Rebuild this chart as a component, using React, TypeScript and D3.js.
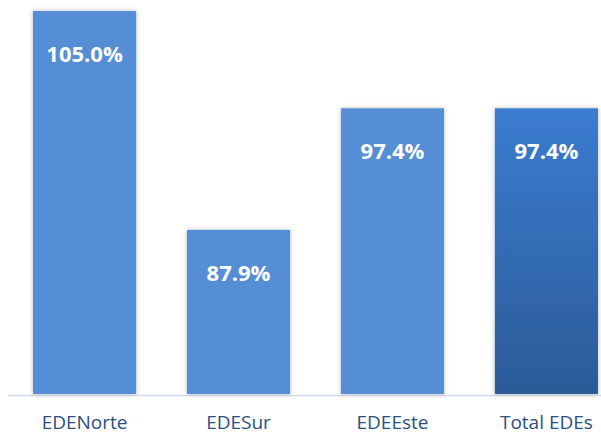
import { useRef, useEffect } from 'react'
import * as d3 from 'd3'

const categories = ['EDENorte', 'EDESur', 'EDEEste', 'Total EDEs']
const values = [105.0, 87.9, 97.4, 97.4]
const labels = ['105.0%', '87.9%', '97.4%', '97.4%']

function App() {
  const ref = useRef<SVGSVGElement>(null)

  useEffect(() => {
    const width = 601
    const svg = d3.select(ref.current)
    svg.selectAll('*').remove()

    const x = d3.scaleBand().domain(categories).range([33, 598]).paddingInner(0.33).paddingOuter(0)
    const y = d3.scaleLinear().domain([75, 105]).range([395, 11])

    const defs = svg.append('defs')
    const grad = defs.append('linearGradient').attr('id', 'totGrad').attr('x1', 0).attr('y1', 0).attr('x2', 0).attr('y2', 1)
    grad.append('stop').attr('offset', '0%').attr('stop-color', '#3b7cd0')
    grad.append('stop').attr('offset', '100%').attr('stop-color', '#2b5b97')
    const f = defs.append('filter').attr('id', 'shadow').attr('x', '-20%').attr('y', '-5%').attr('width', '140%').attr('height', '110%')
    f.append('feDropShadow').attr('dx', 0).attr('dy', 0).attr('stdDeviation', 2.5).attr('flood-color', '#000').attr('flood-opacity', 0.25)

    // axis line
    svg.append('line')
      .attr('x1', 8).attr('x2', width).attr('y1', 395.5).attr('y2', 395.5)
      .attr('stroke', '#d0dcea').attr('stroke-width', 1.5)

    svg.selectAll('rect.bar')
      .data(values)
      .enter()
      .append('rect')
      .attr('class', 'bar')
      .attr('x', (d, i) => x(categories[i])!)
      .attr('y', d => y(d))
      .attr('width', x.bandwidth())
      .attr('height', d => y(75) - y(d) - 1)
      .attr('fill', (d, i) => i === 3 ? 'url(#totGrad)' : '#558ed5')
      .attr('filter', 'url(#shadow)')

    svg.selectAll('text.val')
      .data(values)
      .enter()
      .append('text')
      .attr('class', 'val')
      .attr('x', (d, i) => x(categories[i])! + x.bandwidth() / 2)
      .attr('y', d => y(d) + 51)
      .attr('text-anchor', 'middle')
      .attr('fill', '#fff')
      .style('font', 'bold 22px "Open Sans", sans-serif')
      .text((d, i) => labels[i])

    svg.selectAll('text.cat')
      .data(categories)
      .enter()
      .append('text')
      .attr('class', 'cat')
      .attr('x', d => x(d)! + x.bandwidth() / 2)
      .attr('y', 429)
      .attr('text-anchor', 'middle')
      .attr('fill', '#2a4f80')
      .style('font', '19px "Open Sans", sans-serif')
      .text(d => d)
  }, [])

  return (
    <svg ref={ref} width={601} height={435} style={{ position: 'absolute', left: 0, top: 0 }} />
  )
}

export default App
